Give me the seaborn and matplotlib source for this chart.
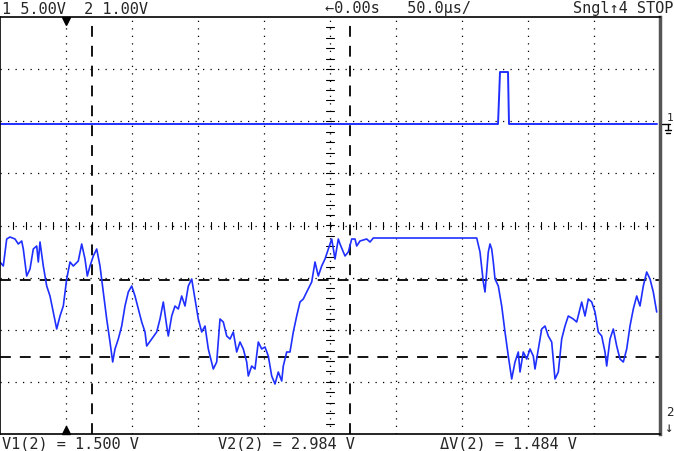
import numpy as np
import pandas as pd
import matplotlib
matplotlib.use("Agg")
import matplotlib.pyplot as plt
import seaborn as sns
from matplotlib.lines import Line2D

# ---- readings from the screen (pixel x, pixel y on the 674x452 capture) ----
ch2_points = [
    (0,263),(3.3,267),(6.7,240),(10,238),(15,240),(18.3,245),(21.7,242),(23.3,250),(26.7,277),(30,270),
    (33.3,250),(36.7,247),(38.3,263),(40,243),(43.3,267),(46.7,287),(50,297),(53.3,313),(56.7,330),(60,317),
    (63.3,307),(66.7,280),(70,263),(73.3,267),(78.3,262),(81.7,245),(85,260),(87.3,277),(90,267),(93.3,257),
    (96.7,250),(100,267),(103.3,293),(106.7,320),(110,343),(112.7,363),(115,350),(118.3,340),(121.7,327),(125,307),
    (128.3,293),(131.7,287),(135,297),(138.3,310),(141.7,323),(145,333),(146.7,347),(151.7,340),(156.7,333),(160,320),
    (163.3,303),(166.7,327),(168.3,337),(171.7,317),(175,307),(178.3,310),(181.7,297),(185,307),(188.3,287),(191.7,280),
    (195,300),(198.3,320),(201.7,333),(205,327),(208.3,350),(213.3,370),(216.7,363),(220,320),(223.3,323),(226.7,337),
    (230,340),(233.3,333),(236.7,353),(240,343),(243.3,350),(246.7,363),(248.3,377),(251.7,367),(255,370),(258.3,343),
    (261.7,350),(265,348),(268.3,357),(271.7,377),(275,385),(278.3,373),(281.7,382),(283.3,367),(286.7,353),(290,353),
    (293.3,333),(296.7,317),(300,303),(303.3,300),(306.7,293),(311.7,283),(315,263),(318.3,277),(321.7,267),(325,260),
    (328.3,250),(331.7,240),(335,260),(338.3,240),(340,245),(345,257),(348.3,253),(351.7,240),(355,240),(356.7,247),
    (360,242),(366.7,240),(370,243),(373.3,239),(400,239),(430,239),(476.7,239),(480,253),(483.3,283),(485,293),
    (486.7,273),(488.3,253),(490,245),(491.7,250),(493.3,263),(495,280),(498.3,287),(501.7,307),(505,333),(508.3,357),
    (511.7,380),(515,363),(518.3,353),(520,373),(523.3,353),(526.7,360),(530,350),(533.3,357),(535,370),(538.3,350),
    (541.7,330),(545,327),(548.3,337),(551.7,343),(555,380),(558.3,373),(561.7,340),(565,327),(568.3,317),(573.3,320),
    (576.7,323),(581.7,303),(585,317),(588.3,300),(591.7,303),(595,313),(598.3,333),(601.7,337),(605,353),(606.7,367),
    (610,340),(613.3,330),(616.7,347),(620,360),(623.3,363),(626.7,350),(630,327),(633.3,310),(636.7,297),(640,307),
    (643.3,287),(646.7,273),(650,280),(653.3,293),(656.7,313),
]
ch1_xpx = [0, 498, 499, 500, 501, 508, 509, 657]
ch1_ypx = [125, 125, 100, 73, 73, 73, 125, 125]

x_left, x_right = 0, 660
y_top, y_bottom = 18, 435
px_per_xdiv = (x_right - x_left) / 10
px_per_ydiv = (y_bottom - y_top) / 8
y_center = (y_top + y_bottom) / 2

def to_div(xs, ys):
    return ([(x - x_left) / px_per_xdiv for x in xs],
            [(y_center - y) / px_per_ydiv for y in ys])

c2x, c2y = to_div([p[0] for p in ch2_points], [p[1] for p in ch2_points])
c1x, c1y = to_div(ch1_xpx, ch1_ypx)
df2 = pd.DataFrame({"t": c2x, "v": c2y})
df1 = pd.DataFrame({"t": c1x, "v": c1y})

sns.set_style("white")
plt.rcParams["font.family"] = ["DejaVu Sans Mono"]

fig = plt.figure(figsize=(6.74, 4.52), dpi=100)
ax = fig.add_axes([x_left / 674, (452 - y_bottom) / 452, (x_right - x_left) / 674, (y_bottom - y_top) / 452])
ax.set_xlim(0, 10)
ax.set_ylim(-4, 4)
ax.set_xticks([]); ax.set_yticks([])
for s in ax.spines.values():
    s.set_color("black"); s.set_linewidth(1.2)
ax.spines["right"].set_color("#555555"); ax.spines["right"].set_linewidth(2.5)

dot = (0, (1, 5))
for i in range(1, 10):
    ax.axvline(i, color="black", lw=0.9, ls=dot)
for j in range(-3, 4):
    ax.axhline(j, color="black", lw=0.9, ls=dot)
for k in np.arange(0.2, 10, 0.2):
    ax.plot([k, k], [-0.06, 0.06], color="black", lw=0.8)
for k in np.arange(-3.8, 4, 0.2):
    ax.plot([4.94, 5.06], [k, k], color="black", lw=0.8)

dash = (0, (6, 5))
ax.axvline(92 / px_per_xdiv, color="black", lw=1.3, ls=dash)
ax.axvline(350 / px_per_xdiv, color="black", lw=1.3, ls=dash)
ax.axhline((y_center - 281) / px_per_ydiv, color="black", lw=1.3, ls=dash)
ax.axhline((y_center - 358) / px_per_ydiv, color="black", lw=1.3, ls=dash)

sns.lineplot(data=df1, x="t", y="v", estimator=None, sort=False, ax=ax,
             color="#1f2fff", lw=1.4)
sns.lineplot(data=df2, x="t", y="v", estimator=None, sort=False, ax=ax,
             color="#1f2fff", lw=1.2)
ax.set_xlabel(""); ax.set_ylabel("")

ax.plot([1], [3.93], marker="v", color="black", ms=6, clip_on=False)
ax.plot([1], [-3.93], marker="^", color="black", ms=6, clip_on=False)

fs = 11
fig.text(2 / 674, 1 - 9 / 452, "1 5.00V  2 1.00V", fontsize=fs, va="center")
fig.text(325 / 674, 1 - 9 / 452, "←0.00s   50.0µs/", fontsize=fs, va="center")
fig.text(573 / 674, 1 - 9 / 452, "Sngl↑4 STOP", fontsize=fs, va="center")
fig.text(2 / 674, 1 - 444 / 452, "V1(2) = 1.500 V", fontsize=fs, va="center")
fig.text(218 / 674, 1 - 444 / 452, "V2(2) = 2.984 V", fontsize=fs, va="center")
fig.text(440 / 674, 1 - 444 / 452, "ΔV(2) = 1.484 V", fontsize=fs, va="center")
fig.text(667 / 674, 1 - 118 / 452, "1", fontsize=8, va="center")
# channel-1 ground marker (drawn as a small ground symbol)
def fl(x0, y0, x1, y1):
    fig.add_artist(Line2D([x0 / 674, x1 / 674], [1 - y0 / 452, 1 - y1 / 452], color="black", lw=1))
fl(662, 125, 670, 125); fl(668, 125, 668, 131)
fl(665, 131, 671, 131); fl(666, 134, 670, 134)
fig.text(666 / 674, 1 - 413 / 452, "2", fontsize=9, va="center")
fig.text(664 / 674, 1 - 428 / 452, "↓", fontsize=10, va="center")

fig.savefig("out.png", dpi=100)
